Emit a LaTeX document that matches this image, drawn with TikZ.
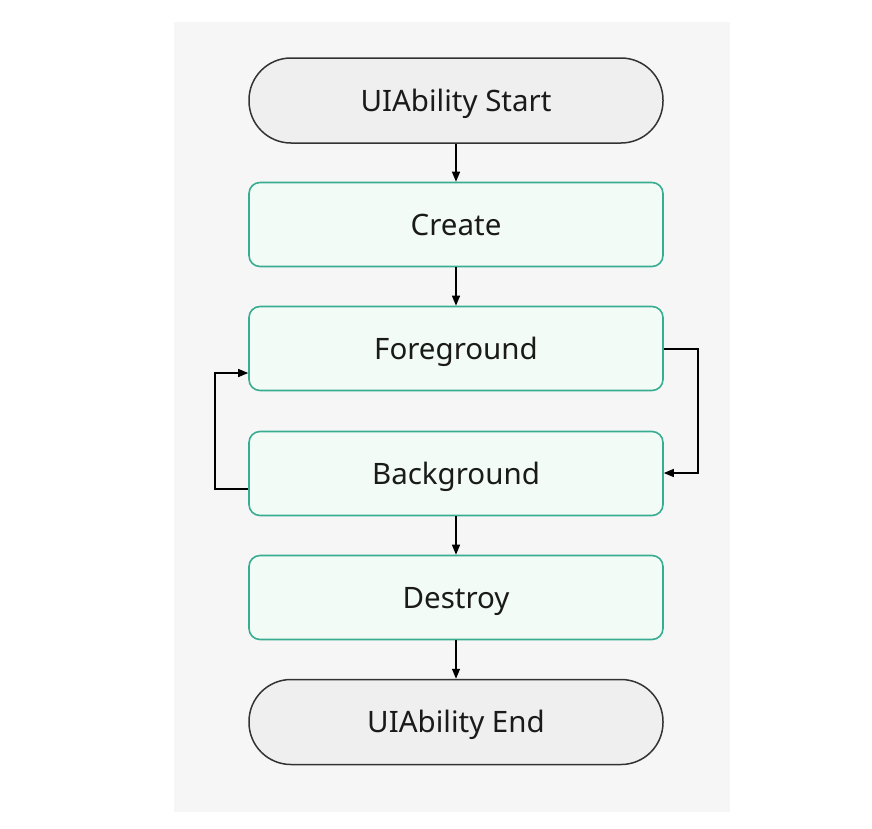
\documentclass[tikz,border=0pt]{standalone}
\usepackage{fontspec}
\setmainfont{Noto Sans}
\usetikzlibrary{arrows.meta,positioning}
\definecolor{panelgray}{HTML}{F6F6F6}
\definecolor{termfill}{HTML}{EFEFEF}
\definecolor{termline}{HTML}{333333}
\definecolor{boxfill}{HTML}{F3FBF6}
\definecolor{boxline}{HTML}{38AD92}
\definecolor{txt}{HTML}{1A1A1A}
\begin{document}
\begin{tikzpicture}[x=1pt,y=-1pt,
  lbl/.style={inner sep=0pt,text=txt,font=\fontsize{29.5}{32}\selectfont,text height=21.5pt,text depth=0pt},
  terminal/.style={lbl,draw=termline,fill=termfill,line width=1.5pt,rounded corners=42pt,
    minimum width=414pt,minimum height=85pt},
  stagebox/.style={lbl,draw=boxline,fill=boxfill,line width=1.6pt,rounded corners=11pt,
    minimum width=414pt,minimum height=84pt},
  flow/.style={draw=black,line width=1.3pt,-{Triangle[length=10pt,width=8pt]}}]
\useasboundingbox (0,0) rectangle (872,828);
\fill[panelgray] (174,22) rectangle (730,812);
\node[terminal] (start) at (456,100.5) {UIAbility Start};
\node[stagebox] (create) at (456,224.5) {Create};
\node[stagebox] (fore) at (456,348.5) {Foreground};
\node[stagebox] (back) at (456,473.5) {Background};
\node[stagebox] (destroy) at (456,597.5) {Destroy};
\node[terminal] (end) at (456,722) {UIAbility End};
\draw[flow] (start) -- (create);
\draw[flow] (create) -- (fore);
\draw[flow] (back) -- (destroy);
\draw[flow] (destroy) -- (end);
\coordinate (r1) at (698,349);
\coordinate (r2) at (698,473);
\coordinate (l1) at (215,489);
\coordinate (l2) at (215,373);
\draw[flow] (fore.east |- r1) -- (r1) -- (r2) -- (back.east |- r2);
\draw[flow] (back.west |- l1) -- (l1) -- (l2) -- (fore.west |- l2);
\end{tikzpicture}
\end{document}
